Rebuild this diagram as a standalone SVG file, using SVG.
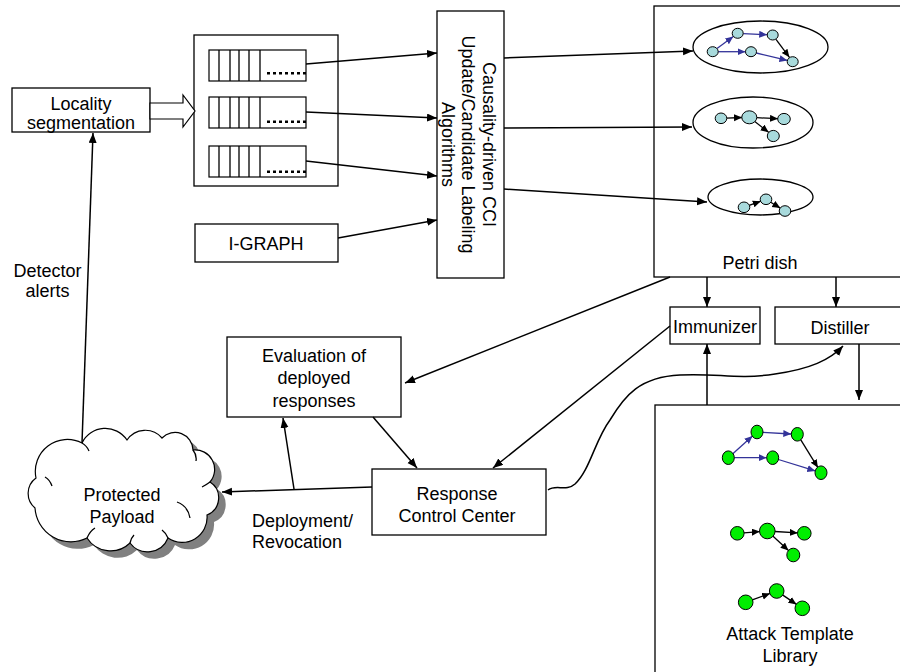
<svg xmlns="http://www.w3.org/2000/svg" width="900" height="672" viewBox="0 0 900 672">
<defs>
<marker id="ah" markerUnits="userSpaceOnUse" markerWidth="11" markerHeight="9" refX="10" refY="4" orient="auto"><path d="M0,0 L10,4 L0,8 z" fill="#000"/></marker>
<marker id="sb" markerUnits="userSpaceOnUse" markerWidth="9" markerHeight="8" refX="8" refY="3.5" orient="auto"><path d="M0,0 L8,3.5 L0,7 z" fill="#000"/></marker>
<marker id="sbl" markerUnits="userSpaceOnUse" markerWidth="9" markerHeight="8" refX="8" refY="3.5" orient="auto"><path d="M0,0 L8,3.5 L0,7 z" fill="#333399"/></marker>
<path id="cloud" d="M35,508 A19,19 0 0 1 36,478 A32,32 0 0 1 82,443 A26,26 0 0 1 127,440 A22,22 0 0 1 162,438 A18,18 0 0 1 193,450 A19.5,19.5 0 0 1 210,482 A18.6,18.6 0 0 1 207,515 A25,25 0 0 1 168,538 A22,22 0 0 1 130,543 A28,28 0 0 1 87,538 A36,36 0 0 1 35,508 Z"/>
</defs>
<style>
.b{fill:#fff;stroke:#000;stroke-width:1.3}
.t{font-family:"Liberation Sans",Arial,sans-serif;font-size:18px;fill:#000;text-anchor:middle}
.l{stroke:#000;stroke-width:1.5;fill:none}
.g{stroke:#000;stroke-width:1.3;fill:none}
.gb{stroke:#333399;stroke-width:1.3;fill:none}
.nb{fill:#A8DADC;stroke:#000;stroke-width:1}
.ng{fill:#00EE00;stroke:#000;stroke-width:1}
.dots{stroke:#000;stroke-width:2.5;stroke-dasharray:3,3;fill:none}
.q{fill:#fff;stroke:#000;stroke-width:1.2}
</style>

<g id="petri-dish">
<rect class="b" x="654" y="6" width="260" height="271"/>
<ellipse cx="760.5" cy="47" rx="67.5" ry="26" fill="#fff" stroke="#000" stroke-width="1.3"/>
<ellipse cx="753" cy="122.5" rx="60" ry="25.5" fill="#fff" stroke="#000" stroke-width="1.3"/>
<ellipse cx="760.5" cy="197" rx="52.5" ry="18" fill="#fff" stroke="#000" stroke-width="1.3"/>
<path class="gb" marker-end="url(#sbl)" d="M717,48.6 L733.3,36.6"/>
<path class="gb" marker-end="url(#sbl)" d="M743.2,33.6 L767.2,34.7"/>
<path class="gb" marker-end="url(#sbl)" d="M718.2,51.7 L745.5,51.7"/>
<path class="gb" marker-end="url(#sbl)" d="M756.3,53 L787.4,60.4"/>
<path class="g" marker-end="url(#sb)" d="M776,39.4 L789.4,57.3"/>
<ellipse class="nb" cx="712.7" cy="51.7" rx="5.5" ry="5"/>
<ellipse class="nb" cx="737.7" cy="33.3" rx="5.5" ry="5"/>
<ellipse class="nb" cx="772.7" cy="35" rx="5.5" ry="5"/>
<ellipse class="nb" cx="751" cy="51.7" rx="5.5" ry="5"/>
<ellipse class="nb" cx="792.7" cy="61.7" rx="5.5" ry="5"/>
<path class="g" marker-end="url(#sb)" d="M726.5,118.1 L742,117.5"/>
<path class="g" marker-end="url(#sb)" d="M756.8,117.7 L778,118.7"/>
<path class="g" marker-end="url(#sb)" d="M754.8,121.6 L768.6,132.3"/>
<ellipse class="nb" cx="721" cy="118.3" rx="5.8" ry="5.3"/>
<ellipse class="nb" cx="749.3" cy="117.3" rx="7.5" ry="6.5"/>
<ellipse class="nb" cx="784" cy="119" rx="6.3" ry="5.6"/>
<ellipse class="nb" cx="773.3" cy="136" rx="6" ry="5.6"/>
<path class="g" marker-end="url(#sb)" d="M749.2,205.4 L760.8,201.2"/>
<path class="g" marker-end="url(#sb)" d="M770.7,202.2 L780.3,208.1"/>
<ellipse class="nb" cx="744" cy="207.3" rx="5.8" ry="5.3"/>
<ellipse class="nb" cx="766" cy="199.3" rx="5.8" ry="5.3"/>
<ellipse class="nb" cx="785" cy="211" rx="5.8" ry="5.3"/>
<text class="t" x="760" y="269">Petri dish</text>
</g>

<g id="attack-template-library">
<rect class="b" x="655" y="405" width="260" height="280"/>
<path class="gb" marker-end="url(#sbl)" d="M732.8,453.7 L752.5,436"/>
<path class="gb" marker-end="url(#sbl)" d="M763,432.3 L791.3,434"/>
<path class="gb" marker-end="url(#sbl)" d="M734.3,457.7 L766.7,457.7"/>
<path class="gb" marker-end="url(#sbl)" d="M778.4,459.5 L815.3,470.9"/>
<path class="g" marker-end="url(#sb)" d="M800.5,439.4 L817.9,467.6"/>
<ellipse class="ng" cx="728.3" cy="457.7" rx="6" ry="6.8"/>
<ellipse class="ng" cx="757" cy="432" rx="6" ry="6.8"/>
<ellipse class="ng" cx="797.3" cy="434.3" rx="6" ry="6.8"/>
<ellipse class="ng" cx="772.7" cy="457.7" rx="6" ry="6.8"/>
<ellipse class="ng" cx="821" cy="472.7" rx="6" ry="6.8"/>
<path class="g" marker-end="url(#sb)" d="M743.8,532.8 L759.8,531.6"/>
<path class="g" marker-end="url(#sb)" d="M774.8,531.5 L797.8,532.9"/>
<path class="g" marker-end="url(#sb)" d="M772.8,536.1 L788.5,550.6"/>
<ellipse class="ng" cx="737.3" cy="533.3" rx="6.8" ry="6.8"/>
<ellipse class="ng" cx="767.3" cy="531" rx="7.8" ry="7.8"/>
<ellipse class="ng" cx="804.3" cy="533.3" rx="6.8" ry="6.8"/>
<ellipse class="ng" cx="793.3" cy="555" rx="6.5" ry="6.8"/>
<path class="g" marker-end="url(#sb)" d="M752.3,599.9 L770.1,593.4"/>
<path class="g" marker-end="url(#sb)" d="M782.5,594.9 L796.5,604.4"/>
<ellipse class="ng" cx="745.7" cy="602.3" rx="7.3" ry="7.3"/>
<ellipse class="ng" cx="776.7" cy="591" rx="7.3" ry="7.3"/>
<ellipse class="ng" cx="802.3" cy="608.3" rx="7.3" ry="7.3"/>
<text class="t" x="790" y="640">Attack Template</text>
<text class="t" x="790" y="662">Library</text>
</g>

<g id="locality-segmentation">
<rect class="b" x="12" y="88" width="138" height="44"/>
<text class="t" x="81" y="110">Locality</text>
<text class="t" x="81" y="128.5">segmentation</text>
</g>

<g id="queues">
<rect class="b" x="194" y="35" width="144" height="151"/>
<rect class="q" x="209" y="50" width="97" height="31"/>
<path class="g" d="M219,50 V81 M230,50 V81 M239,50 V81 M249,50 V81 M260,50 V81"/>
<path class="dots" d="M267,73.3 H306"/>
<rect class="q" x="209" y="97" width="97" height="31"/>
<path class="g" d="M219,97 V128 M230,97 V128 M239,97 V128 M249,97 V128 M260,97 V128"/>
<path class="dots" d="M267,121.7 H306"/>
<rect class="q" x="209" y="146" width="97" height="31"/>
<path class="g" d="M219,146 V177 M230,146 V177 M239,146 V177 M249,146 V177 M260,146 V177"/>
<path class="dots" d="M267,171.7 H306"/>
</g>

<g id="i-graph">
<rect class="b" x="195" y="224" width="143" height="38"/>
<text class="t" x="266" y="250">I-GRAPH</text>
</g>

<g id="cci">
<rect class="b" x="437" y="11" width="67" height="267"/>
<text class="t" transform="translate(483,144.5) rotate(90)">Causality-driven CCI</text>
<text class="t" transform="translate(462,144.5) rotate(90)">Update/Candidate Labeling</text>
<text class="t" transform="translate(442,144.5) rotate(90)">Algorithms</text>
</g>

<g id="immunizer">
<rect class="b" x="670" y="307" width="90" height="37"/>
<text class="t" x="715" y="333">Immunizer</text>
</g>

<g id="distiller">
<rect class="b" x="775" y="307" width="140" height="37"/>
<text class="t" x="840" y="334">Distiller</text>
</g>

<g id="evaluation">
<rect class="b" x="227" y="337" width="174" height="80"/>
<text class="t" x="314" y="362">Evaluation of</text>
<text class="t" x="314" y="384">deployed</text>
<text class="t" x="314" y="407">responses</text>
</g>

<g id="response-control-center">
<rect class="b" x="372" y="469" width="174" height="66"/>
<text class="t" x="457" y="500">Response</text>
<text class="t" x="457" y="522">Control Center</text>
</g>

<g id="protected-payload">
<use href="#cloud" transform="translate(7,7)" fill="#808080"/>
<use href="#cloud" fill="#fff" stroke="#000" stroke-width="1.2"/>
<path class="g" stroke-width="1" d="M45,477 Q50,480 52,486 M82,443 Q87,446 89,451 M193,450 Q197,455 196,461 M210,482 Q206,485 202,487 M177,502 Q188,506 190,518 M87,538 Q90,531 95,528 M130,543 Q131,538 134,535 M168,538 Q166,533 162,530"/>
<text class="t" x="122" y="501">Protected</text>
<text class="t" x="122" y="523">Payload</text>
</g>

<g id="connectors">
<polygon points="150,103 183,103 183,95 195,111 183,127 183,119 150,119" fill="#fff" stroke="#000" stroke-width="1.2"/>
<path class="l" marker-end="url(#ah)" d="M306,64 L437,53"/>
<path class="l" marker-end="url(#ah)" d="M306,112 L437,118"/>
<path class="l" marker-end="url(#ah)" d="M306,161 L437,176"/>
<path class="l" marker-end="url(#ah)" d="M338,238 L437,220"/>
<path class="l" marker-end="url(#ah)" d="M504,58 L693,51"/>
<path class="l" marker-end="url(#ah)" d="M504,128 L692,127"/>
<path class="l" marker-end="url(#ah)" d="M504,189 L707,202"/>
<path class="l" marker-end="url(#ah)" d="M82,443 L93,133"/>
<path class="l" marker-end="url(#ah)" d="M707,277 L707,307"/>
<path class="l" marker-end="url(#ah)" d="M836,277 L836,307"/>
<path class="l" marker-end="url(#ah)" d="M670,277 L405,383"/>
<path class="l" marker-end="url(#ah)" d="M670,326 L493,468"/>
<path class="l" marker-end="url(#ah)" d="M373,417 L417,468"/>
<path class="l" marker-end="url(#ah)" d="M372,487 L222,492"/>
<path class="l" marker-end="url(#ah)" d="M294,489 L283,418"/>
<path class="l" marker-end="url(#ah)" d="M707,405 L707,344"/>
<path class="l" marker-end="url(#ah)" d="M859,344 L859,400"/>
<path class="l" stroke-width="1.2" marker-end="url(#ah)" d="M548,490 C556,484 566,492 575,484 C590,470 595,440 610,420 C625,395 640,377 680,375 C720,373 735,380 775,374 C810,369 830,360 843,346"/>
<text class="t" x="47.5" y="277">Detector</text>
<text class="t" x="47.5" y="297">alerts</text>
<text class="t" x="252" y="527" style="text-anchor:start">Deployment/</text>
<text class="t" x="252" y="548" style="text-anchor:start">Revocation</text>
</g>
</svg>
